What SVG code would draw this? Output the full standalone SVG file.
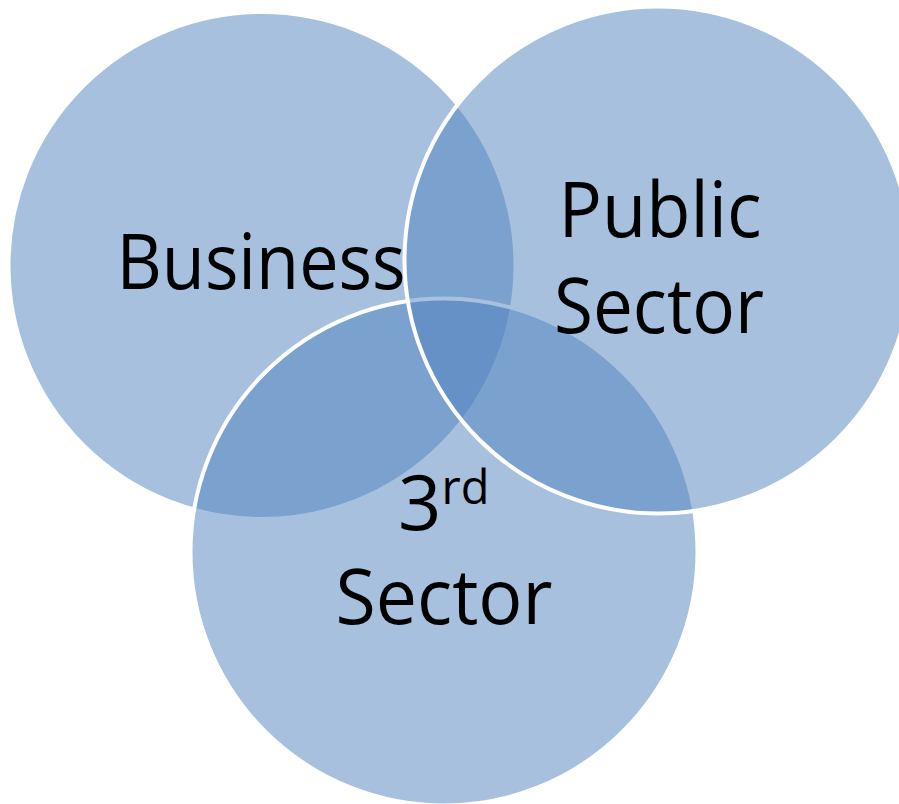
<svg xmlns="http://www.w3.org/2000/svg" width="899" height="804" viewBox="0 0 899 804">
<style>
.c{fill:#4F81BD;fill-opacity:0.5;stroke:#FFFFFF;stroke-width:4}
.t{font-family:"Open Sans","Noto Sans","Liberation Sans",sans-serif;font-size:76px;fill:#000000}
</style>
<rect width="899" height="804" fill="#FFFFFF"/>
<g id="business">
<circle class="c" cx="262" cy="265.5" r="253.5"/>
<text class="t" x="261" y="289" text-anchor="middle" textLength="289" lengthAdjust="spacingAndGlyphs">Business</text>
</g>
<g id="third-sector">
<circle class="c" cx="444" cy="552" r="253.5"/>
<text class="t" x="398" y="530">3<tspan font-size="47" dy="-26">rd</tspan></text>
<text class="t" x="444" y="624" text-anchor="middle" textLength="217" lengthAdjust="spacingAndGlyphs">Sector</text>
</g>
<g id="public-sector">
<circle class="c" cx="658" cy="260" r="253.5"/>
<text class="t" x="660" y="237" text-anchor="middle" textLength="203" lengthAdjust="spacingAndGlyphs">Public</text>
<text class="t" x="659" y="333" text-anchor="middle" textLength="210" lengthAdjust="spacingAndGlyphs">Sector</text>
</g>
<g id="connectors"/>
</svg>
